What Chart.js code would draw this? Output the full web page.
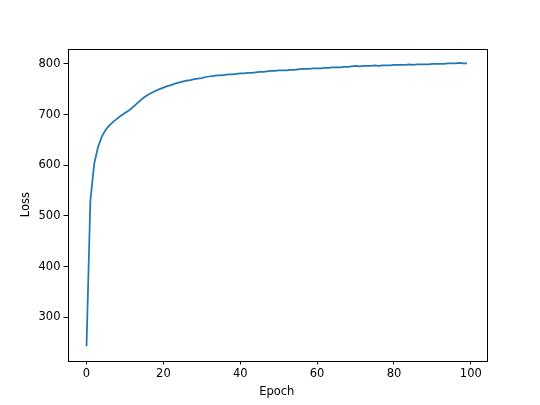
<!DOCTYPE html>
<html>
<head>
<meta charset="utf-8">
<script src="https://cdn.jsdelivr.net/npm/chart.js@4/dist/chart.umd.min.js"></script>
<style>
html,body{margin:0;padding:0;background:#fff;}
#wrap{width:540px;height:405px;}
</style>
</head>
<body>
<div id="wrap"><canvas id="c" width="540" height="405"></canvas></div>
<script>
const epochs = Array.from({length: 100}, (_, i) => i);
const loss = [
243,530,603,636,657,670,679,686,692,698,
703,708,714,721,728,734,739,743,747,750,
753,756,758,761,763,765,767,768,770,771,
772,774,775,776,777,777,778,779,779,780,
781,781,782,782,783,784,784,785,786,786,
787,787,787,788,788,789,790,790,790,791,
791,791,792,792,793,793,793,794,794,795,
796,795,796,796,796,797,796,797,797,797,
798,798,798,798,799,798,799,799,799,799,
800,800,800,800,801,801,801,802,801,801
];
const xTicks = [0, 20, 40, 60, 80, 100];
const yTicks = [300, 400, 500, 600, 700, 800];
const xLabel = 'Epoch';
const yLabel = 'Loss';

const frame = {
  id: 'frame',
  afterDraw(chart) {
    const a = chart.chartArea, ctx = chart.ctx;
    ctx.save();
    ctx.strokeStyle = '#000';
    ctx.lineWidth = 1;
    ctx.strokeRect(Math.round(a.left) + 0.5, Math.round(a.top) + 0.5, Math.round(a.right - a.left), Math.round(a.bottom - a.top));
    ctx.restore();
  }
};

const font = {family: 'DejaVu Sans', size: 11.5};

new Chart(document.getElementById('c'), {
  type: 'line',
  data: {
    datasets: [{
      data: epochs.map((e, i) => ({x: e, y: loss[i]})),
      borderColor: '#1f77b4',
      borderWidth: 1.75,
      pointRadius: 0,
      tension: 0,
      fill: false
    }]
  },
  options: {
    responsive: false,
    animation: false,
    events: [],
    layout: {padding: {left: 0, right: 54, top: 48.6, bottom: 0}},
    plugins: {legend: {display: false}, tooltip: {enabled: false}},
    scales: {
      x: {
        type: 'linear',
        min: -4.95, max: 103.95,
        afterBuildTicks(s) { s.ticks = xTicks.map(v => ({value: v})); },
        afterFit(s) { s.height = 44.5; },
        grid: {drawOnChartArea: false, drawTicks: true, tickLength: 4, color: '#000', tickColor: '#000'},
        border: {display: false},
        ticks: {color: '#000', font: font, padding: 3, maxRotation: 0, autoSkip: false},
        title: {display: true, text: xLabel, color: '#000', font: font, padding: {top: 0, bottom: 6}}
      },
      y: {
        type: 'linear',
        min: 215, max: 830,
        afterBuildTicks(s) { s.ticks = yTicks.map(v => ({value: v})); },
        afterFit(s) { s.width = 67.5; },
        grid: {drawOnChartArea: false, drawTicks: true, tickLength: 4, color: '#000', tickColor: '#000'},
        border: {display: false},
        ticks: {color: '#000', font: font, padding: 3, autoSkip: false},
        title: {display: true, text: yLabel, color: '#000', font: font, padding: {top: 19, bottom: 0}}
      }
    }
  },
  plugins: [frame]
});
</script>
</body>
</html>
